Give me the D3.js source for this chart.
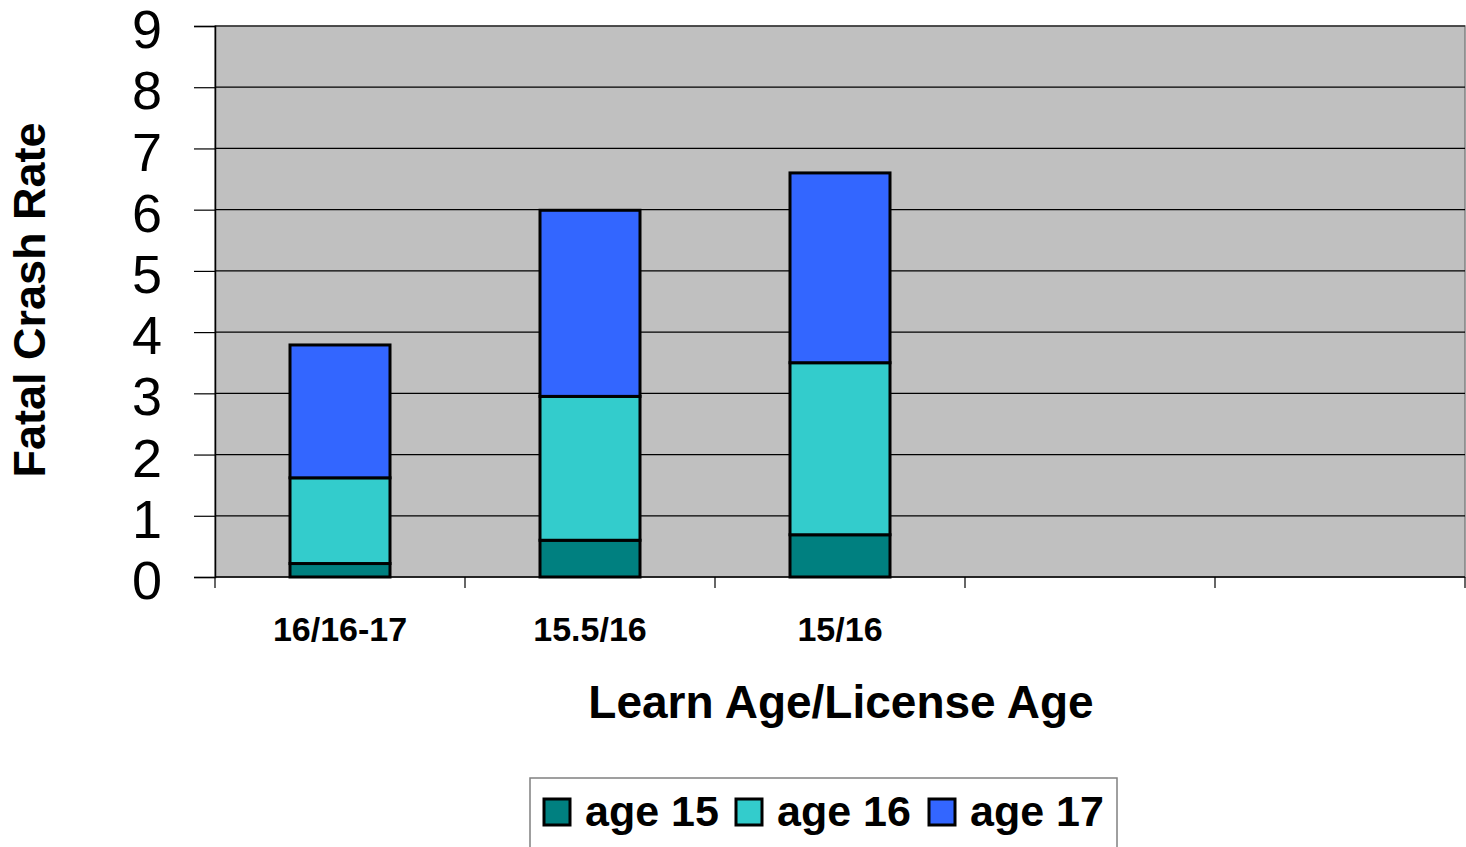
<!DOCTYPE html>
<html>
<head>
<meta charset="utf-8">
<script src="https://cdn.jsdelivr.net/npm/d3@7"></script>
<style>
  body { margin: 0; background: #fff; }
  text { font-family: "Liberation Sans", Arial, sans-serif; }
</style>
</head>
<body>
<div id="chart"></div>
<script>
// data
const categories = ["16/16-17", "15.5/16", "15/16", "", ""];
const seriesNames = ["age 15", "age 16", "age 17"];
const age15 = [0.22, 0.60, 0.69];
const age16 = [1.40, 2.35, 2.81];
const age17 = [2.17, 3.04, 3.10];
const yTicks = [0, 1, 2, 3, 4, 5, 6, 7, 8, 9];
const colors = ["#008080", "#33cccc", "#3366ff"];

const width = 1466, height = 847;
const plot = {left: 215, right: 1465, top: 26, bottom: 577};

let svg = d3.select("#chart")
    .append("svg")
    .attr("width", width)
    .attr("height", height);

let x = d3.scaleBand()
    .domain(d3.range(categories.length))
    .range([plot.left, plot.right])
    .paddingInner(0.6)
    .paddingOuter(0.3);

let y = d3.scaleLinear()
    .domain([0, 9])
    .range([plot.bottom, plot.top]);

// plot background
svg.append("rect")
    .attr("x", plot.left)
    .attr("y", plot.top)
    .attr("width", plot.right - plot.left)
    .attr("height", plot.bottom - plot.top)
    .attr("fill", "#c0c0c0")
    .attr("stroke", "#808080")
    .attr("stroke-width", 1.5);

// gridlines
svg.append("g")
    .selectAll("line")
    .data(yTicks.filter(d => d > 0))
    .join("line")
    .attr("x1", plot.left)
    .attr("x2", plot.right)
    .attr("y1", d => y(d))
    .attr("y2", d => y(d))
    .attr("stroke", "#000")
    .attr("stroke-width", 1.2);

// stacked bars
let rows = categories.map((c, i) => ({
    i: i,
    "age 15": age15[i] || 0,
    "age 16": age16[i] || 0,
    "age 17": age17[i] || 0
})).filter(d => d.i < age15.length);

let stack = d3.stack().keys(seriesNames)(rows);

svg.append("g")
    .selectAll("g")
    .data(stack)
    .join("g")
    .attr("fill", (d, k) => colors[k])
    .selectAll("rect")
    .data(d => d)
    .join("rect")
    .attr("x", d => x(d.data.i))
    .attr("width", x.bandwidth())
    .attr("y", d => y(d[1]))
    .attr("height", d => y(d[0]) - y(d[1]))
    .attr("stroke", "#000")
    .attr("stroke-width", 3);

// y axis
let yAxis = svg.append("g")
    .attr("transform", `translate(${plot.left},0)`)
    .call(d3.axisLeft(y).tickValues(yTicks).tickSize(21).tickPadding(32).tickFormat(d3.format("d")));
yAxis.select(".domain").attr("stroke", "#000").attr("stroke-width", 1.5);
yAxis.selectAll(".tick line").attr("stroke", "#000").attr("stroke-width", 1.2);
yAxis.selectAll(".tick text")
    .attr("font-size", 54)
    .attr("fill", "#000")
    .attr("dy", "0.4em")
    .style("font-family", "Liberation Sans, Arial, sans-serif");

// x axis: ticks sit between categories
let xAxisG = svg.append("g")
    .attr("transform", `translate(0,${plot.bottom})`);
xAxisG.append("line")
    .attr("x1", plot.left).attr("x2", plot.right)
    .attr("y1", 0).attr("y2", 0)
    .attr("stroke", "#000").attr("stroke-width", 1.5);
let bounds = d3.range(categories.length + 1).map(i => plot.left + i * x.step());
xAxisG.selectAll("line.tk")
    .data(bounds)
    .join("line")
    .attr("class", "tk")
    .attr("x1", d => d).attr("x2", d => d)
    .attr("y1", 0).attr("y2", 11)
    .attr("stroke", "#000").attr("stroke-width", 1.2);
xAxisG.selectAll("text")
    .data(categories.map((c, i) => ({c, i})))
    .join("text")
    .attr("x", d => x(d.i) + x.bandwidth() / 2)
    .attr("y", 64)
    .attr("text-anchor", "middle")
    .attr("font-size", 34)
    .attr("font-weight", "bold")
    .text(d => d.c);

// axis titles
svg.append("text")
    .attr("transform", `translate(45, 300) rotate(-90)`)
    .attr("text-anchor", "middle")
    .attr("font-size", 45)
    .attr("font-weight", "bold")
    .text("Fatal Crash Rate");

svg.append("text")
    .attr("x", 841)
    .attr("y", 718)
    .attr("text-anchor", "middle")
    .attr("font-size", 46)
    .attr("font-weight", "bold")
    .text("Learn Age/License Age");

// legend
let legend = svg.append("g");
legend.append("rect")
    .attr("x", 530).attr("y", 778)
    .attr("width", 587).attr("height", 80)
    .attr("fill", "#fff")
    .attr("stroke", "#808080")
    .attr("stroke-width", 1.5);
let legendX = [544, 736, 929];
let items = legend.selectAll("g.item")
    .data(seriesNames)
    .join("g")
    .attr("class", "item")
    .attr("transform", (d, k) => `translate(${legendX[k]}, 799)`);
items.append("rect")
    .attr("width", 26).attr("height", 26)
    .attr("fill", (d, k) => colors[k])
    .attr("stroke", "#000")
    .attr("stroke-width", 3);
items.append("text")
    .attr("x", 41)
    .attr("y", 27)
    .attr("font-size", 43)
    .attr("font-weight", "bold")
    .text(d => d);
</script>
</body>
</html>
